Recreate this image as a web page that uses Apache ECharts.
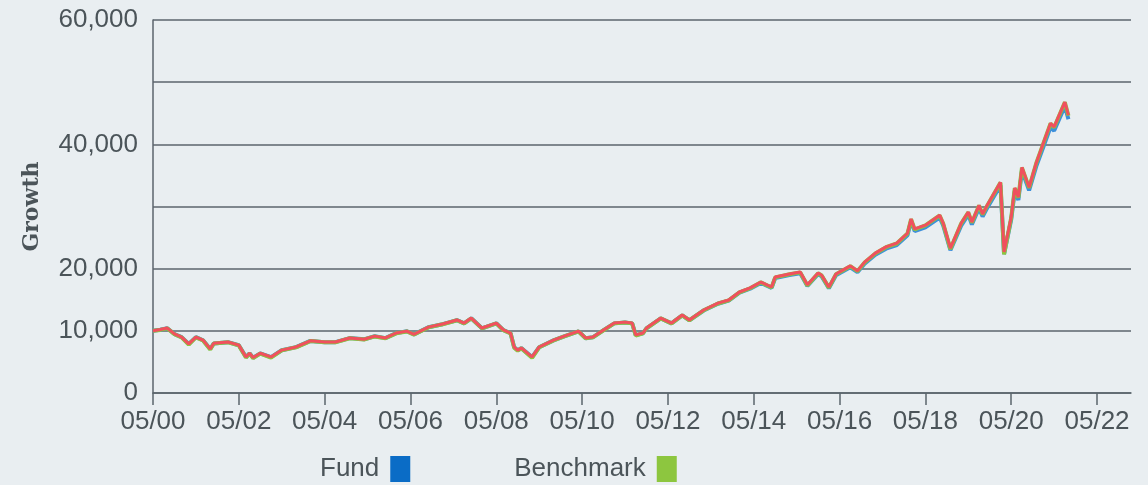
<!DOCTYPE html>
<html>
<head>
<meta charset="utf-8">
<title>Growth</title>
<script src="https://cdn.jsdelivr.net/npm/echarts@6/dist/echarts.min.js"></script>
<style>
html, body { margin: 0; padding: 0; background: #e9eef1; }
#growthChart { width: 1148px; height: 485px; }
</style>
</head>
<body>
<div id="growthChart"></div>
<script>
/*
*数据
*/
var dates = ['2000-05','2000-07','2000-09','2000-11','2001-01','2001-03','2001-05','2001-07','2001-09','2001-10',
	'2002-02','2002-05','2002-07','2002-08','2002-09','2002-11','2003-02','2003-05','2003-09','2004-01',
	'2004-05','2004-08','2004-12','2005-04','2005-07','2005-10','2006-01','2006-04','2006-06','2006-10',
	'2007-02','2007-06','2007-08','2007-10','2008-01','2008-05','2008-07','2008-09','2008-10','2008-11',
	'2008-12','2009-03','2009-05','2009-09','2009-12','2010-04','2010-06','2010-08','2010-11','2011-02',
	'2011-05','2011-07','2011-08','2011-10','2011-11','2012-03','2012-06','2012-09','2012-11','2013-03',
	'2013-07','2013-10','2014-01','2014-04','2014-07','2014-10','2014-11','2015-03','2015-06','2015-08',
	'2015-11','2015-12','2016-02','2016-04','2016-08','2016-10','2016-12','2017-03','2017-06','2017-09',
	'2017-12','2018-01','2018-02','2018-05','2018-09','2018-10','2018-12','2019-03','2019-05','2019-06',
	'2019-08','2019-09','2019-10','2020-02','2020-03','2020-05','2020-06','2020-07','2020-08','2020-10',
	'2020-12','2021-02','2021-04','2021-05','2021-08','2021-09'];

var fundValues = [10000,10180,10420,9480,8980,7880,8980,8480,7080,7980,
	8180,7680,5780,6380,5680,6380,5780,6880,7380,8380,
	8180,8180,8830,8630,9130,8830,9630,9930,9430,10570,
	11070,11710,11210,12010,10410,11210,10110,9610,7370,6870,
	7220,5770,7370,8470,9110,9910,8810,8960,10110,11200,
	11350,11200,9300,9600,10400,11990,11190,12480,11680,13270,
	14360,14850,16130,16770,17710,16900,18490,18980,19270,17220,
	19110,18760,16860,18950,20230,19430,20810,22240,23220,23800,
	25380,27650,26050,26650,28220,26920,22960,26910,28690,27100,
	29770,28380,29470,33420,22350,27880,32520,31030,35780,32600,
	36460,39620,42780,42180,46150,44050];

var benchmarkValues = [10000,10150,10400,9450,8950,7800,8950,8450,7000,7950,
	8150,7650,5700,6350,5600,6350,5700,6850,7350,8350,
	8150,8150,8800,8600,9100,8800,9600,9900,9400,10550,
	11050,11700,11200,12000,10400,11200,10100,9600,7300,6800,
	7200,5650,7350,8450,9100,9900,8800,8950,10100,11200,
	11350,11200,9250,9600,10400,12000,11200,12500,11700,13300,
	14400,14900,16200,16850,17800,16980,18600,19100,19400,17300,
	19250,18900,16950,19100,20400,19600,21000,22450,23450,24050,
	25650,27950,26300,26950,28550,27200,23150,27250,29050,27400,
	30150,28700,29850,33850,22300,28200,32950,31400,36250,33000,
	36950,40150,43350,42700,46750,44600];

var categoryValues = [10000,10200,10450,9500,9000,7900,9000,8500,7100,8000,
	8200,7700,5800,6400,5700,6400,5800,6900,7400,8400,
	8200,8200,8850,8650,9150,8850,9650,9950,9450,10600,
	11100,11750,11250,12050,10450,11250,10150,9650,7400,6900,
	7250,5800,7400,8500,9150,9950,8850,9000,10150,11250,
	11400,11250,9350,9650,10450,12050,11250,12550,11750,13350,
	14450,14950,16250,16900,17850,17050,18650,19150,19450,17400,
	19300,18950,17050,19150,20450,19650,21050,22500,23500,24100,
	25700,28000,26400,27000,28600,27300,23300,27300,29100,27500,
	30200,28800,29900,33900,22700,28300,33000,31500,36300,33100,
	37000,40200,43400,42800,46800,44700];

var xTicks = [0,24,48,72,96,120,144,168,192,216,240,264];   // 05/00 ... 05/22，按月计
var legendNames = ['Fund','Benchmark'];

// 日期转为自2000年5月起的月数
function monthIndex(d){
	var p = d.split('-');
	return (parseInt(p[0],10)-2000)*12 + parseInt(p[1],10) - 5;
}
function toPairs(values){
	var out = [];
	for (var i = 0; i < dates.length; i++) {
		out.push([monthIndex(dates[i]), values[i]]);
	}
	return out;
}

var textColor = '#4b5459';
var lineColor = '#5b656c';

var optionGrowth = {
	backgroundColor: '#e9eef1',
	animation: false,
	grid: { left: 153, right: 17, top: 20, bottom: 92 },
	legend: {
		data: legendNames,
		left: 315,
		top: 451,
		align: 'right',
		itemWidth: 20,
		itemHeight: 26,
		itemGap: 104,
		icon: 'rect',
		textStyle: {
			color: textColor,
			fontSize: 26,
			fontFamily: 'Liberation Sans',
			verticalAlign: 'top',
			lineHeight: 14,
			padding: [0,6,0,0]
		}
	},
	xAxis: {
		type: 'value',
		min: 0,
		max: 273.5,
		interval: 24,
		axisLine: { show: true, lineStyle: { color: lineColor, width: 1.5 } },
		axisTick: { show: true, length: 12, customValues: xTicks, lineStyle: { color: lineColor, width: 1.5 } },
		axisLabel: {
			customValues: xTicks,
			color: textColor,
			fontSize: 26,
			fontFamily: 'Liberation Sans',
			margin: 16,
			formatter: function(v){
				var y = Math.round(v/12);
				return '05/' + (y < 10 ? '0' + y : '' + y);
			}
		},
		splitLine: { show: false }
	},
	yAxis: {
		type: 'value',
		min: 0,
		max: 60000,
		interval: 10000,
		name: 'Growth',
		nameLocation: 'middle',
		nameGap: 110,
		nameTextStyle: { color: textColor, fontSize: 22, fontWeight: 'bold', fontFamily: 'DejaVu Serif' },
		axisLine: { show: true, lineStyle: { color: lineColor, width: 1.5 } },
		axisTick: { show: false },
		axisLabel: {
			color: textColor,
			fontSize: 26,
			fontFamily: 'Liberation Sans',
			margin: 15,
			formatter: function(v){
				if (v === 30000 || v === 50000) return '';
				return v.toLocaleString('en-US');
			}
		},
		splitLine: { show: true, lineStyle: { color: lineColor, width: 1.5 } }
	},
	series: [
		{
			name: 'Fund',
			type: 'line',
			symbol: 'none',
			color: '#0a6cc6',
			lineStyle: { width: 4, color: '#3d8fdb' },
			data: toPairs(fundValues)
		},
		{
			name: 'Benchmark',
			type: 'line',
			symbol: 'none',
			color: '#8dc63f',
			lineStyle: { width: 4, color: '#8dc63f' },
			data: toPairs(benchmarkValues)
		},
		{
			name: 'Category',
			type: 'line',
			symbol: 'none',
			color: '#f0505e',
			lineStyle: { width: 3, color: '#f0505e' },
			data: toPairs(categoryValues)
		}
	]
};

var myGrowth = echarts.init(document.getElementById('growthChart'));
myGrowth.setOption(optionGrowth);
</script>
</body>
</html>
